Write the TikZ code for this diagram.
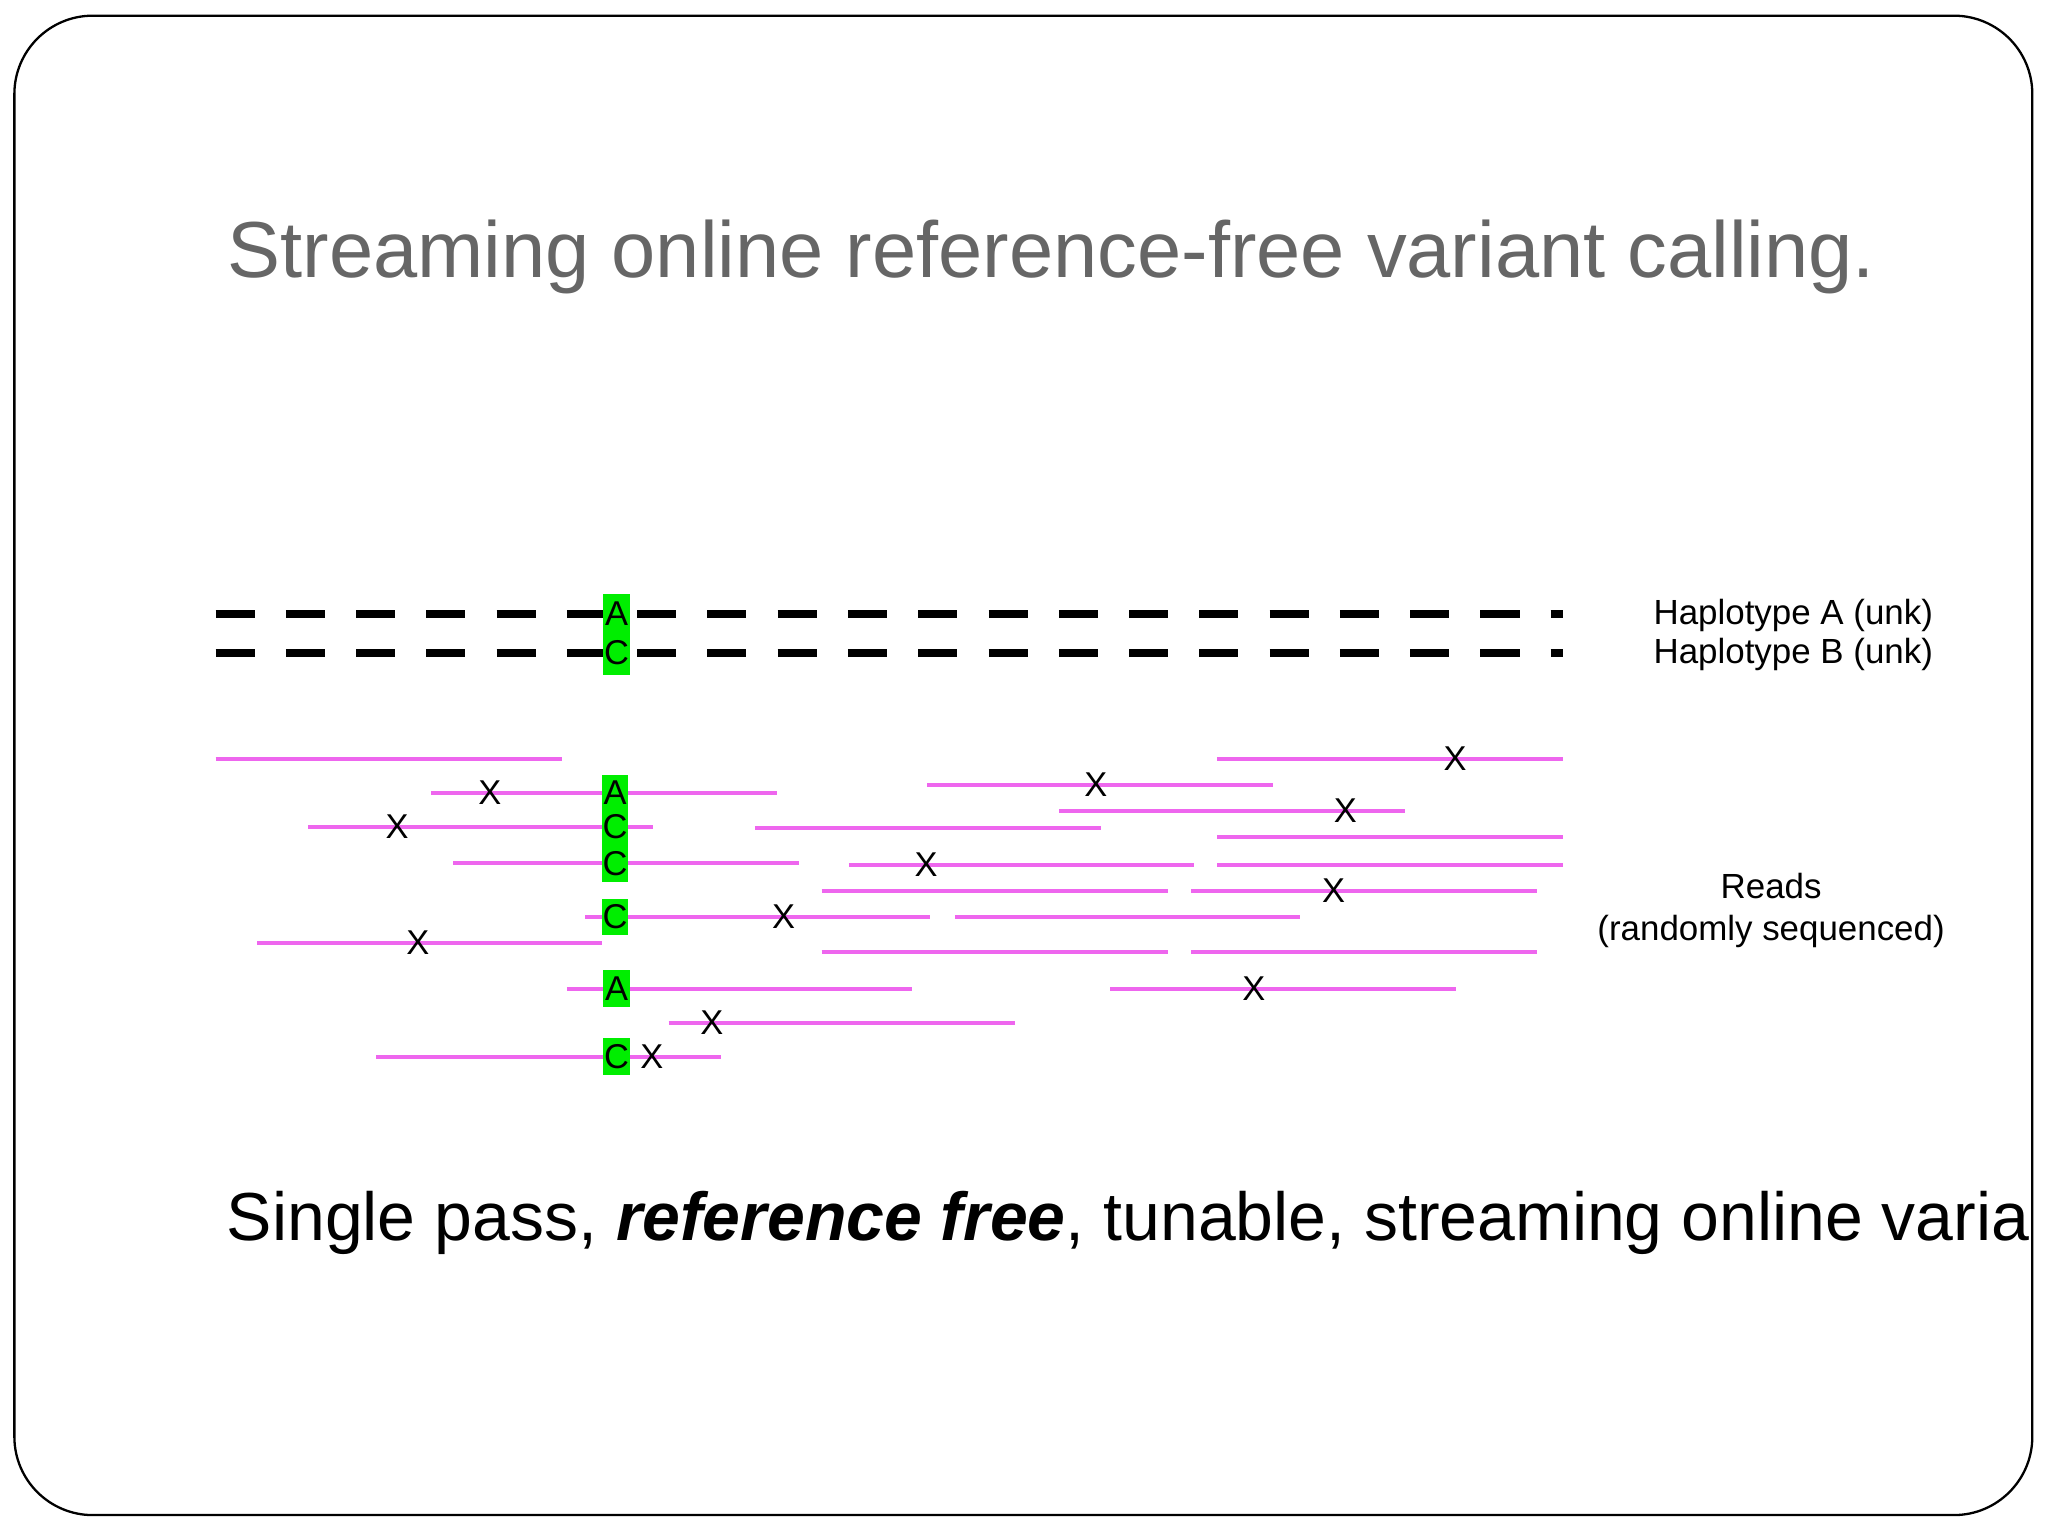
\documentclass[tikz,border=0pt]{standalone}
\usepackage{fontspec}
\setmainfont{Liberation Sans}
\begin{document}
\begin{tikzpicture}[x=0.01cm,y=-0.01cm,
  hap/.style={line width=1.7pt,dash pattern=on 8.5pt off 6.8pt},
  rd/.style={line width=0.9pt,draw={rgb,255:red,238;green,102;blue,238}},
  gb/.style={fill={rgb,255:red,0;green,238;blue,0},inner sep=0pt,minimum width=0.2cm,font=\fontsize{7.5}{8}\selectfont},
  xm/.style={inner sep=0pt,font=\fontsize{7.5}{8}\selectfont},
  lab/.style={font=\fontsize{7.6}{9}\selectfont,align=center}]
\useasboundingbox (0,0) rectangle (1568,1176);
\draw[line width=0.5pt,rounded corners=0.6cm] (11,12) rectangle (1556,1160);
\node[text={rgb,255:red,102;green,102;blue,102},font=\fontsize{17.3}{20}\selectfont] (title) at (805,197) {Streaming online reference-free variant calling.};
% haplotypes
\coordinate (ha1) at (165,470); \coordinate (ha2) at (1197,470);
\coordinate (hb1) at (165,500); \coordinate (hb2) at (1197,500);
\draw[hap] (ha1) -- (ha2);
\draw[hap] (hb1) -- (hb2);
\fill[gb] (462,455) rectangle (482,517);
\node[xm] (hA) at (472,470) {A};
\node[xm] (hB) at (472,500) {C};
\node[lab] (la) at (1373,471) {Haplotype A (unk)};
\node[lab] (lb) at (1373,501) {Haplotype B (unk)};
% reads
\foreach \a/\b/\y in {165/430/581,330/595/607,236/500/633,347/612/661,448/712/702,197/461/722,434/698/757,512/777/783,288/552/809,
932/1197/581,710/975/601,811/1076/621,578/843/634,932/1197/641,650/914/662,932/1197/662,629/894/682,912/1177/682,731/995/702,629/894/729,912/1177/729,850/1115/757}
  \draw[rd] (\a,\y) -- (\b,\y);
\fill[gb] (461,593) rectangle (481,675);
\node[xm] (r1) at (471,607) {A};
\node[xm] (r2) at (471,633) {C};
\node[xm] (r3) at (471,661) {C};
\fill[gb] (461,688) rectangle (481,716); \node[xm] (r4) at (471,702) {C};
\fill[gb] (462,743) rectangle (482,771); \node[xm] (r5) at (472,757) {A};
\fill[gb] (462,795) rectangle (482,823); \node[xm] (r6) at (472,809) {C};
\foreach \x/\y in {375/607,304/633,600/702,320/722,545/783,499/809,1114/581,839/601,1030/621,709/662,1021/682,960/757}
  \node[xm] at (\x,\y) {X};
\node[lab] (reads) at (1356,697) {Reads\\(randomly sequenced)};
\begin{scope}
\clip (11,12) rectangle (1556,1160);
\node[anchor=base west,inner sep=0pt,font=\fontsize{14.8}{18}\selectfont] (bottom) at (173,950) {Single pass, \textbf{\textit{reference free}}, tunable, streaming online variant calling.};
\end{scope}
\end{tikzpicture}
\end{document}
